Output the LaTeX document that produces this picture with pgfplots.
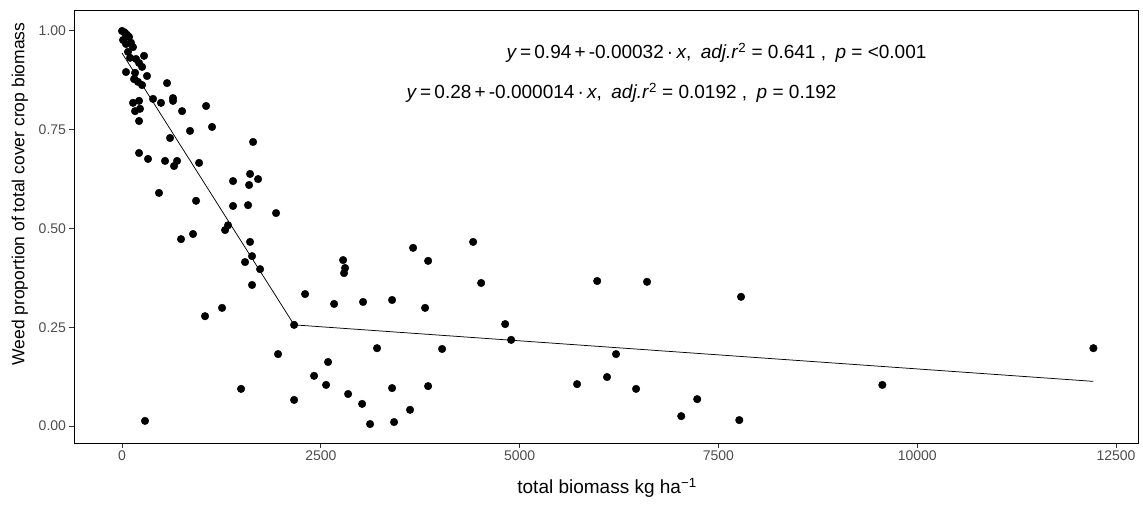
\documentclass[border=0pt]{standalone}
\usepackage{pgfplots}
\pgfplotsset{compat=1.18}
\usepackage{pgfplotstable}
\usepackage{fontspec}
\setmainfont{Liberation Sans}
\definecolor{ticktext}{HTML}{4D4D4D}
\definecolor{tickcol}{HTML}{333333}

\pgfplotstableread{
x y
0 1.000
25 0.997
38 0.995
63 0.990
88 0.985
13 0.977
113 0.970
50 0.967
138 0.959
75 0.947
277 0.937
101 0.932
176 0.929
214 0.919
252 0.909
50 0.896
164 0.894
314 0.886
151 0.878
201 0.871
252 0.863
566 0.868
214 0.823
138 0.818
390 0.828
490 0.818
641 0.830
641 0.823
164 0.797
226 0.803
755 0.797
1057 0.810
214 0.772
855 0.747
1132 0.757
604 0.729
1648 0.719
214 0.691
327 0.676
541 0.671
692 0.671
654 0.658
969 0.666
1610 0.638
1711 0.625
1396 0.620
1598 0.610
465 0.590
931 0.570
1396 0.557
1585 0.559
1937 0.539
1333 0.508
1296 0.496
893 0.486
742 0.473
1610 0.466
1635 0.430
1547 0.415
1736 0.397
1635 0.357
2302 0.334
1258 0.299
1044 0.278
2164 0.256
1962 0.182
1497 0.094
2164 0.066
289 0.013
2780 0.420
2805 0.400
2792 0.387
2667 0.309
3660 0.451
4415 0.466
3849 0.418
4516 0.362
3031 0.314
3396 0.319
3811 0.299
4818 0.258
4893 0.218
3207 0.197
4025 0.195
2591 0.162
2415 0.127
2566 0.104
3396 0.096
3849 0.101
2843 0.081
3019 0.056
3622 0.041
3119 0.005
3421 0.010
5975 0.367
6602 0.365
7784 0.327
6212 0.182
5722 0.106
6099 0.124
6464 0.094
7233 0.068
7032 0.025
7762 0.015
9561 0.104
12215 0.197
}\pts

\begin{document}
\begin{tikzpicture}
\begin{axis}[
  scale only axis,
  width=1064pt, height=433pt,
  xmin=-604, xmax=12776,
  ymin=-0.043, ymax=1.053,
  axis line style={black, line width=0.9pt},
  xtick={0,2500,5000,7500,10000,12500},
  ytick={0,0.25,0.5,0.75,1},
  scaled x ticks=false,
  xtick pos=left, ytick pos=left,
  tick align=outside,
  major tick length=4.5pt,
  tick style={color=tickcol, line width=0.9pt},
  /pgf/number format/assume math mode=true,
  x tick label style={/pgf/number format/1000 sep={}, font=\fontsize{14}{15}\selectfont, text=ticktext},
  y tick label style={/pgf/number format/.cd, fixed, fixed zerofill, precision=2, /tikz/.cd, font=\fontsize{14}{15}\selectfont, text=ticktext},
  xlabel={total biomass kg ha\textsuperscript{−1}},
  ylabel={Weed proportion of total cover crop biomass},
  xlabel style={font=\fontsize{19}{21}\selectfont, at={(axis description cs:0.501,-0.104)}, anchor=center},
  ylabel style={font=\fontsize{17.5}{20}\selectfont, at={(axis description cs:-0.0508,0.575)}, anchor=center},
  clip=false,
]
\addplot[only marks, mark=*, mark size=3.8pt, black] table[x=x,y=y]{\pts};
\addplot[black, line width=0.75pt] coordinates {(0,0.944) (2164,0.256)};
\addplot[black, line width=0.75pt] coordinates {(2164,0.256) (12215,0.113)};
\node[anchor=base west, font=\fontsize{19}{21}\selectfont] at (axis cs:4791,0.929)
  {\textit{y}\,=\,0.94\,+\,-0.00032\,·\,\textit{x},\enspace\textit{adj.r}\textsuperscript{2} = 0.641 ,\enspace\textit{p} = <0.001};
\node[anchor=base west, font=\fontsize{19}{21}\selectfont] at (axis cs:3534,0.828)
  {\textit{y}\,=\,0.28\,+\,-0.000014\,·\,\textit{x},\enspace\textit{adj.r}\textsuperscript{2} = 0.0192 ,\enspace\textit{p} = 0.192};
\end{axis}
\pgfresetboundingbox
\path ([shift={(-74pt,-63pt)}]current axis.south west) rectangle ([shift={(5pt,10pt)}]current axis.north east);
\end{tikzpicture}
\end{document}
